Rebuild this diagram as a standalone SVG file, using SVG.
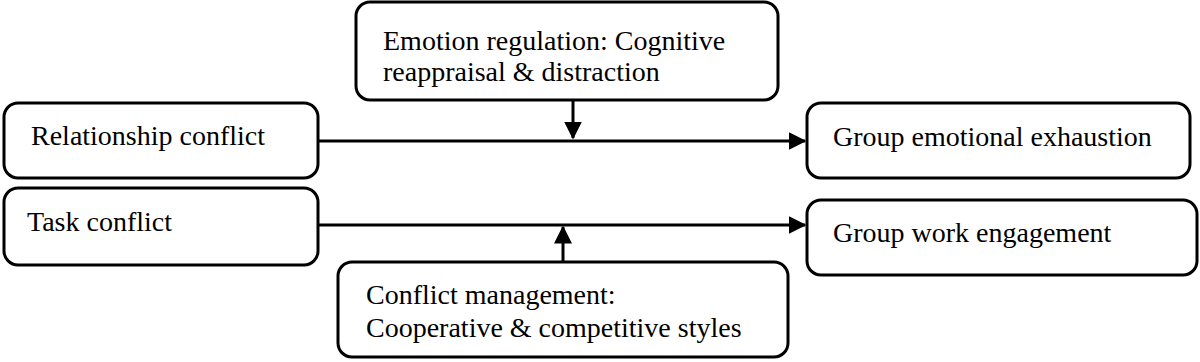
<svg xmlns="http://www.w3.org/2000/svg" width="1200" height="362" viewBox="0 0 1200 362">
<style>
.box{fill:#fff;stroke:#000;stroke-width:3}
.t{font-family:"Liberation Serif","Times New Roman",serif;font-size:28px;fill:#000}
.c{stroke:#000;stroke-width:3;fill:none}
</style>
<defs>
<marker id="ah" markerWidth="6" markerHeight="6" refX="5.5" refY="3" orient="auto" markerUnits="strokeWidth">
<path d="M0,0 L6,3 L0,6 Z" fill="#000"/>
</marker>
</defs>
<rect width="1200" height="362" fill="#fff"/>
<g id="emotion">
<rect class="box" x="356" y="2" width="422" height="98" rx="14"/>
<text class="t" x="383" y="50">Emotion regulation: Cognitive</text>
<text class="t" x="383" y="81">reappraisal &amp; distraction</text>
</g>
<g id="relationship">
<rect class="box" x="4" y="103" width="314" height="75" rx="14"/>
<text class="t" x="31" y="145">Relationship conflict</text>
</g>
<g id="task">
<rect class="box" x="4" y="188" width="314" height="77" rx="14"/>
<text class="t" x="27" y="231">Task conflict</text>
</g>
<g id="exhaustion">
<rect class="box" x="807" y="103" width="383" height="75" rx="14"/>
<text class="t" x="833" y="146">Group emotional exhaustion</text>
</g>
<g id="engagement">
<rect class="box" x="807" y="200" width="390" height="75" rx="14"/>
<text class="t" x="833" y="242">Group work engagement</text>
</g>
<g id="conflictmgmt">
<rect class="box" x="338" y="262" width="450" height="95" rx="14"/>
<text class="t" x="366" y="304">Conflict management:</text>
<text class="t" x="366" y="337">Cooperative &amp; competitive styles</text>
</g>
<g id="connectors">
<line class="c" x1="318" y1="141" x2="805" y2="141" marker-end="url(#ah)"/>
<line class="c" x1="318" y1="225" x2="805" y2="225" marker-end="url(#ah)"/>
<line class="c" x1="573" y1="100" x2="573" y2="138" marker-end="url(#ah)"/>
<line class="c" x1="563" y1="262" x2="563" y2="227" marker-end="url(#ah)"/>
</g>
</svg>
